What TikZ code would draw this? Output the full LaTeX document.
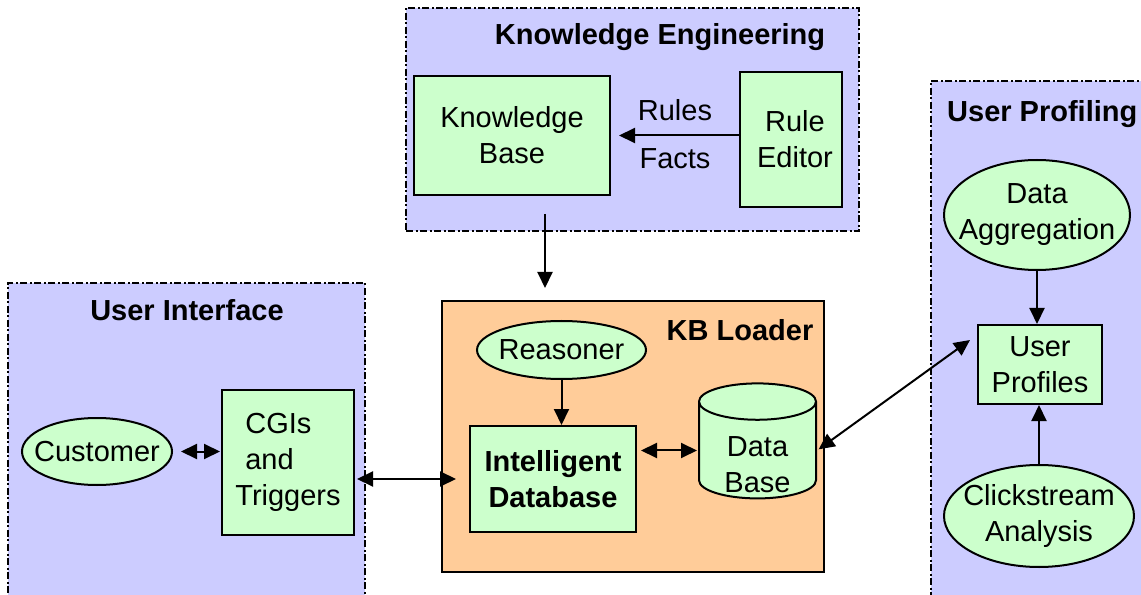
\documentclass[tikz,border=0pt]{standalone}
\usepackage{fontspec}
\setmainfont{Liberation Sans}
\usetikzlibrary{arrows.meta}
\usetikzlibrary{shapes.geometric}
\definecolor{panelColor}{HTML}{CCCCFF}
\definecolor{nodeColor}{HTML}{CCFFCC}
\definecolor{loaderColor}{HTML}{FFCC99}
\newcommand{\bodyFont}{\fontsize{29bp}{36bp}\selectfont}
\newcommand{\titleFont}{\bfseries\fontsize{29bp}{36bp}\selectfont}
\tikzset{
  panelBox/.style={draw, fill=panelColor, line width=1.5bp,
    dash pattern=on 7bp off 2.5bp on 2bp off 2.5bp, inner sep=0pt},
  loaderBox/.style={draw, fill=loaderColor, line width=2bp, inner sep=0pt},
  greenBox/.style={draw, fill=nodeColor, line width=2bp, inner sep=0pt,
    align=center, font=\bodyFont},
  greenEllipse/.style={draw, fill=nodeColor, line width=2bp, ellipse, inner sep=0pt},
  ellipseText/.style={font=\bodyFont, align=center, inner sep=0pt},
  titleText/.style={font=\titleFont, inner sep=0pt},
  plainText/.style={font=\bodyFont, inner sep=0pt},
  link/.style={line width=2bp, -{Triangle[length=16bp,width=15bp]}},
  biLink/.style={line width=2bp,
    {Triangle[length=16bp,width=15bp]}-{Triangle[length=16bp,width=15bp]}},
}

\begin{document}
\begin{tikzpicture}[x=1bp,y=-1bp]

\useasboundingbox (0, 0) rectangle (1141, 595);
\clip (0, 0) rectangle (1141, 595);

% panel layer
\begin{scope}
\node[panelBox, minimum width=453bp, minimum height=223bp] (kePanel) at (632.5, 119.5) {};
\node[panelBox, minimum width=357bp, minimum height=327bp] (uiPanel) at (186.5, 446.5) {};
\node[panelBox, minimum width=229bp, minimum height=529bp] (upPanel) at (1045.5, 345.5) {};
\node[loaderBox, minimum width=382bp, minimum height=271bp] (loader) at (633, 436.5) {};
\node[titleText] (keTitle) at (660, 37) {Knowledge Engineering};
\node[titleText] (uiTitle) at (187, 310) {User Interface};
\node[titleText] (loaderTitle) at (740, 330) {KB Loader};
\node[titleText, anchor=west] (upTitle) at (947, 114) {User Profiling};
\end{scope}

% node layer
\begin{scope}
\node[greenBox, minimum width=196bp, minimum height=119bp] (kb) at (512, 135.5) {Knowledge\\Base};
\node[greenBox, minimum width=102bp, minimum height=135bp] (ruleEd) at (791, 139.5)
  {\hspace*{8bp}Rule\\\hspace*{8bp}Editor};
\node[greenEllipse, minimum width=150bp, minimum height=67bp,
  label={[ellipseText]center:Customer}] (customer) at (97, 451.5) {};
\node[greenBox, align=left, minimum width=132bp, minimum height=145bp] (cgi) at (288, 462.5)
  {\hspace*{10bp}CGIs\\\hspace*{10bp}and\\Triggers};
\node[greenEllipse, minimum width=169bp, minimum height=58bp,
  label={[ellipseText]center:Reasoner}] (reasoner) at (561.5, 350) {};
\node[greenBox, font=\titleFont, minimum width=166bp, minimum height=106bp] (idb) at (553, 479)
  {Intelligent\\Database};
\node[draw, fill=nodeColor, line width=2bp, cylinder, shape border rotate=90, aspect=0.55,
  inner sep=0pt, align=center, font=\bodyFont, minimum width=117bp, minimum height=115bp,
  label={[ellipseText, yshift=-14bp]center:Data\\Base}] (db) at (757.5, 450.5)
  {\phantom{Data}\\\phantom{Base}};
\node[greenEllipse, minimum width=186bp, minimum height=110bp,
  label={[ellipseText]center:Data\\Aggregation}] (dAgg) at (1037, 215) {};
\node[greenBox, minimum width=124bp, minimum height=79bp] (up) at (1040, 364.5) {User\\Profiles};
\node[greenEllipse, minimum width=190bp, minimum height=102bp,
  label={[ellipseText]center:Clickstream\\Analysis}] (click) at (1039, 516) {};
\coordinate (kbOut) at (545, 214);
\coordinate (upIn) at (970, 340);
\end{scope}

% link layer
\begin{scope}
\draw[link, shorten >=8bp] (ruleEd.west |- kb.east) -- (kb.east)
  node[plainText, midway, above=14bp] (rules) {Rules}
  node[plainText, midway, below=12bp] (facts) {Facts};
\draw[link, shorten >=12bp] (kbOut) -- (kbOut |- loader.north);
\draw[biLink, shorten <=8bp, shorten >=1bp] (customer.east) -- (cgi.west |- customer.east);
\draw[biLink, shorten <=2bp, shorten >=13bp] (cgi.east |- idb.west) -- (idb.west);
\draw[link] (reasoner.south) -- (reasoner.south |- idb.north);
\draw[biLink, shorten <=4bp, shorten >=1bp] (idb.east |- db.west) -- (db.west);
\draw[biLink, shorten <=2bp] (db.east) -- (upIn);
\draw[link] (dAgg.south) -- (dAgg.south |- up.north);
\draw[link] (click.north) -- (click.north |- up.south);
\end{scope}

\end{tikzpicture}
\end{document}
